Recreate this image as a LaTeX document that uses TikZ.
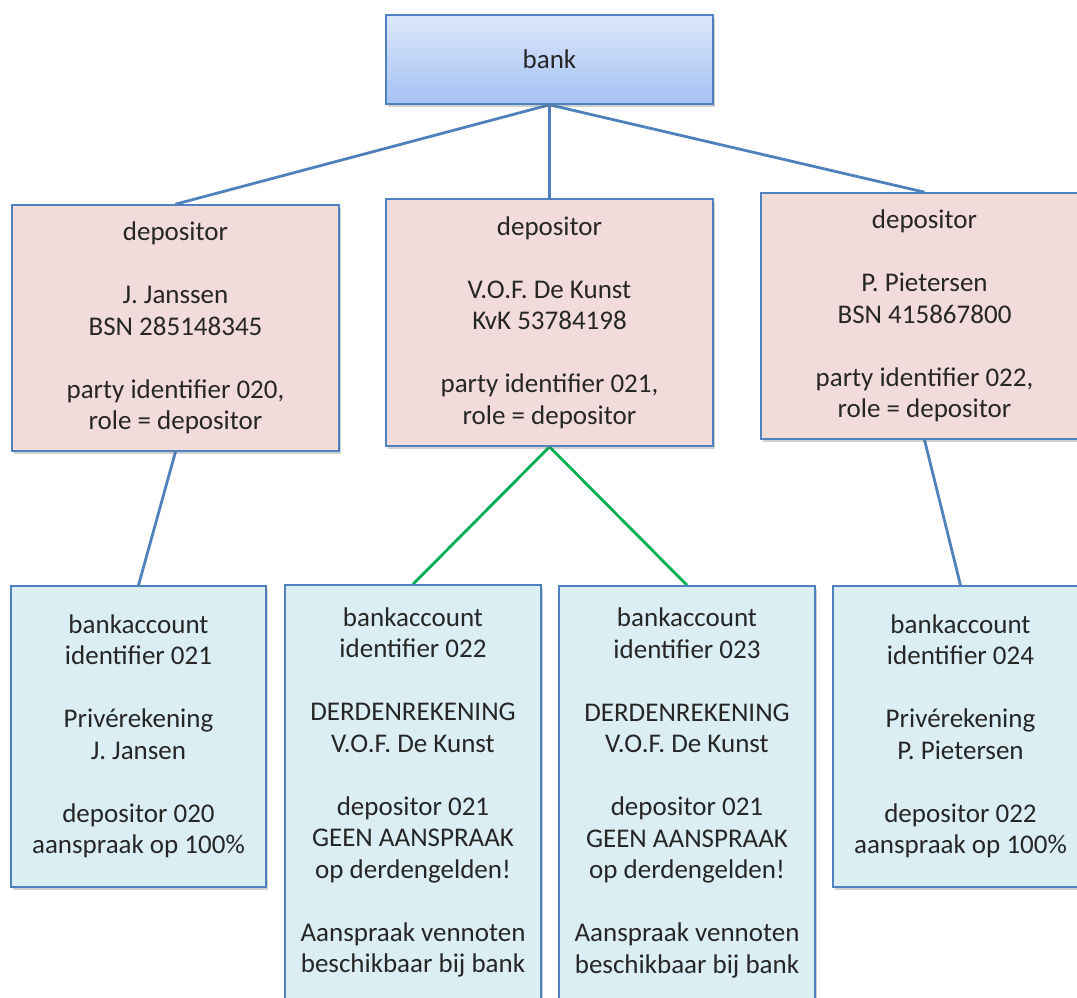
\documentclass[tikz,border=0pt]{standalone}
\usepackage{fontspec}
\setmainfont{Carlito}
\usetikzlibrary{shadows,backgrounds}
\definecolor{edgeblue}{HTML}{4F81BD}
\definecolor{linkgreen}{HTML}{00B050}
\definecolor{partyfill}{HTML}{F2DCDB}
\definecolor{accountfill}{HTML}{DBEEF4}
\definecolor{banktop}{HTML}{DCE7FA}
\definecolor{bankbottom}{HTML}{A4C2F4}
\definecolor{ink}{HTML}{262626}
\tikzset{
  box/.style={draw=edgeblue, line width=1.6pt, inner sep=0pt, align=center,
    text=ink, font=\fontsize{27}{31.5}\selectfont,
    drop shadow={shadow xshift=2pt, shadow yshift=-3pt, opacity=0.3, fill=black!60}},
  bankbox/.style={box, top color=banktop, bottom color=bankbottom},
  partybox/.style={box, fill=partyfill},
  accountbox/.style={box, fill=accountfill},
  tie/.style={draw=edgeblue, line width=2.8pt},
  greentie/.style={draw=linkgreen, line width=2.8pt},
}
\begin{document}
\begin{tikzpicture}[x=1pt, y=-1pt]
\useasboundingbox (0,0) rectangle (1077,997);

% top of the tree
\node[bankbox, minimum width=327pt, minimum height=89pt] (bank) at (549.5,59.5) {bank};

% depositors
\node[partybox, minimum width=327pt, minimum height=246pt] (dep1) at (175.5,328)
  {depositor\\ ~\\ J. Janssen\\ BSN 285148345\\ ~\\ party identifier 020,\\ role = depositor};
\node[partybox, minimum width=327pt, minimum height=247pt] (dep2) at (549.5,322.5)
  {depositor\\ ~\\ V.O.F. De Kunst\\ KvK 53784198\\ ~\\ party identifier 021,\\ role = depositor};
\node[partybox, minimum width=327pt, minimum height=246pt] (dep3) at (924.5,316)
  {depositor\\ ~\\ P. Pietersen\\ BSN 415867800\\ ~\\ party identifier 022,\\ role = depositor};

% bank accounts
\node[accountbox, minimum width=255pt, minimum height=301pt] (acc1) at (138.5,736.5)
  {bankaccount\\ identifier 021\\ ~\\ Privérekening\\ J. Jansen\\ ~\\ depositor 020\\ aanspraak op 100\%};
\node[accountbox, minimum width=256pt, minimum height=415pt] (acc2) at (413,792.5)
  {bankaccount\\ identifier 022\\ ~\\ DERDENREKENING\\ V.O.F. De Kunst\\ ~\\ depositor 021\\ GEEN AANSPRAAK\\ op derdengelden!\\ ~\\ Aanspraak vennoten\\ beschikbaar bij bank};
\node[accountbox, minimum width=256pt, minimum height=414pt] (acc3) at (687,793)
  {bankaccount\\ identifier 023\\ ~\\ DERDENREKENING\\ V.O.F. De Kunst\\ ~\\ depositor 021\\ GEEN AANSPRAAK\\ op derdengelden!\\ ~\\ Aanspraak vennoten\\ beschikbaar bij bank};
\node[accountbox, minimum width=255pt, minimum height=301pt] (acc4) at (960.5,736.5)
  {bankaccount\\ identifier 024\\ ~\\ Privérekening\\ P. Pietersen\\ ~\\ depositor 022\\ aanspraak op 100\%};

% connectors
\begin{scope}[on background layer]
  \draw[tie] (bank.south) -- (dep1.north);
  \draw[tie] (bank.south) -- (dep2.north);
  \draw[tie] (bank.south) -- (dep3.north);
  \draw[tie] (dep1.south) -- (acc1.north);
  \draw[tie] (dep3.south) -- (acc4.north);
  \draw[greentie] (dep2.south) -- (acc2.north);
  \draw[greentie] (dep2.south) -- (acc3.north);
\end{scope}
\end{tikzpicture}
\end{document}
